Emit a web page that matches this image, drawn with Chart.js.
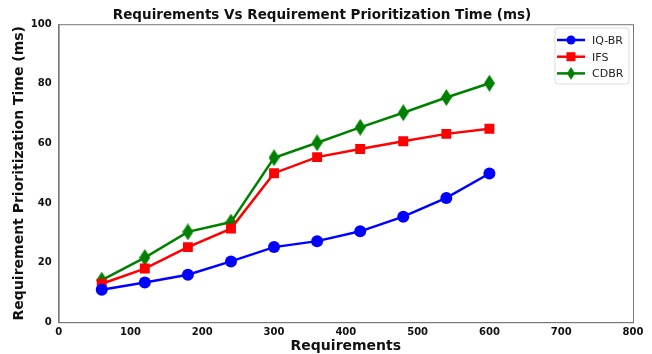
<!DOCTYPE html>
<html>
<head>
<meta charset="utf-8">
<script src="https://cdn.jsdelivr.net/npm/chart.js@4"></script>
<style>
  html, body { margin: 0; padding: 0; background: #fff; }
  #wrap { width: 652px; height: 354px; }
</style>
</head>
<body>
<div id="wrap"><canvas id="myChart" width="652" height="354"></canvas></div>
<script>
const requirements = [60, 120, 180, 240, 300, 360, 420, 480, 540, 600];
const iqbr = [10.9, 13.3, 15.9, 20.4, 25.2, 27.2, 30.5, 35.4, 41.7, 49.9];
const ifs = [12.9, 18.0, 25.2, 31.4, 50.0, 55.4, 58.1, 60.7, 63.2, 64.9];
const cdbr = [14.1, 21.7, 30.3, 33.6, 55.2, 60.2, 65.4, 70.3, 75.4, 80.2];
const xTicks = [0, 100, 200, 300, 400, 500, 600, 700, 800];
const yTicks = [0, 20, 40, 60, 80, 100];

const FONT = 'DejaVu Sans';

// thin diamond like matplotlib 'd'
const makeDiamond = (w, h, color) => {
    const c = document.createElement('canvas');
    c.width = w; c.height = h;
    const g = c.getContext('2d');
    g.fillStyle = color;
    g.beginPath();
    g.moveTo(w / 2, 0);
    g.lineTo(w, h / 2);
    g.lineTo(w / 2, h);
    g.lineTo(0, h / 2);
    g.closePath();
    g.fill();
    return c;
}
const diamond = makeDiamond(11, 17, 'green');

const series = [
    { label: 'IQ-BR', data: iqbr, color: 'blue', style: 'circle', radius: 6 },
    { label: 'IFS', data: ifs, color: 'red', style: 'rect', radius: 7 },
    { label: 'CDBR', data: cdbr, color: 'green', style: diamond, radius: 8 }
];

const boxPlugin = {
    id: 'boxPlugin',
    afterDraw(chart) {
        const { ctx, chartArea: a } = chart;
        ctx.save();
        ctx.strokeStyle = '#777';
        ctx.lineWidth = 1;
        ctx.strokeRect(a.left + 0.5, a.top + 0.5, a.right - a.left, a.bottom - a.top);

        // legend
        const lx = 555, ly = 28, lw = 74, lh = 56;
        ctx.strokeStyle = '#ddd';
        ctx.fillStyle = 'rgba(255,255,255,0.8)';
        ctx.beginPath();
        ctx.roundRect(lx, ly, lw, lh, 3);
        ctx.fill();
        ctx.stroke();
        ctx.font = '11px ' + FONT;
        ctx.textBaseline = 'middle';
        series.forEach((s, i) => {
            const y = ly + 12 + i * 16.7;
            ctx.strokeStyle = s.color;
            ctx.lineWidth = 2.5;
            ctx.beginPath();
            ctx.moveTo(lx + 2, y);
            ctx.lineTo(lx + 30, y);
            ctx.stroke();
            ctx.fillStyle = s.color;
            const cx = lx + 16;
            if (s.style === 'circle') {
                ctx.beginPath();
                ctx.arc(cx, y, 4.5, 0, Math.PI * 2);
                ctx.fill();
            } else if (s.style === 'rect') {
                ctx.fillRect(cx - 4.5, y - 4.5, 9, 9);
            } else {
                ctx.drawImage(diamond, cx - 4, y - 6.5, 8, 13);
            }
            ctx.fillStyle = '#222';
            ctx.fillText(s.label, lx + 37, y + 1);
        });
        ctx.restore();
    }
};

new Chart(document.getElementById('myChart'), {
    type: 'line',
    data: {
        datasets: series.map((s) => ({
            label: s.label,
            data: requirements.map((r, i) => ({ x: r, y: s.data[i] })),
            borderColor: s.color,
            backgroundColor: s.color,
            borderWidth: 2.5,
            pointStyle: s.style,
            pointRadius: s.radius,
            pointHoverRadius: s.radius,
            pointBorderWidth: 0,
            tension: 0
        }))
    },
    options: {
        responsive: false,
        animation: false,
        layout: { padding: { left: 11, right: 19, top: 0, bottom: -1 } },
        plugins: {
            legend: { display: false },
            tooltip: { enabled: false },
            title: {
                display: true,
                text: 'Requirements Vs Requirement Prioritization Time (ms)',
                color: '#111',
                font: { family: FONT, size: 13.5, weight: 'bold' },
                padding: { top: 7, bottom: 1 }
            }
        },
        scales: {
            x: {
                type: 'linear',
                min: 0,
                max: 800,
                afterBuildTicks: (axis) => { axis.ticks = xTicks.map((v) => ({ value: v })); },
                grid: { display: false, drawTicks: true, tickLength: 4, tickColor: '#777' },
                border: { display: true, color: '#777' },
                ticks: { color: '#111', padding: 0, font: { family: FONT, size: 10, weight: 'bold' } },
                title: {
                    display: true,
                    text: 'Requirements',
                    color: '#111',
                    padding: { top: 0, bottom: 0 },
                    font: { family: FONT, size: 14, weight: 'bold' }
                }
            },
            y: {
                min: 0,
                max: 100,
                afterBuildTicks: (axis) => { axis.ticks = yTicks.map((v) => ({ value: v })); },
                grid: { display: false, drawTicks: true, tickLength: 4, tickColor: '#777' },
                border: { display: true, color: '#777' },
                ticks: { color: '#111', padding: 3, font: { family: FONT, size: 10, weight: 'bold' } },
                title: {
                    display: true,
                    text: 'Requirement Prioritization Time (ms)',
                    color: '#111',
                    padding: { top: 0, bottom: 0 },
                    font: { family: FONT, size: 14, weight: 'bold' }
                }
            }
        }
    },
    plugins: [boxPlugin]
});
</script>
</body>
</html>
